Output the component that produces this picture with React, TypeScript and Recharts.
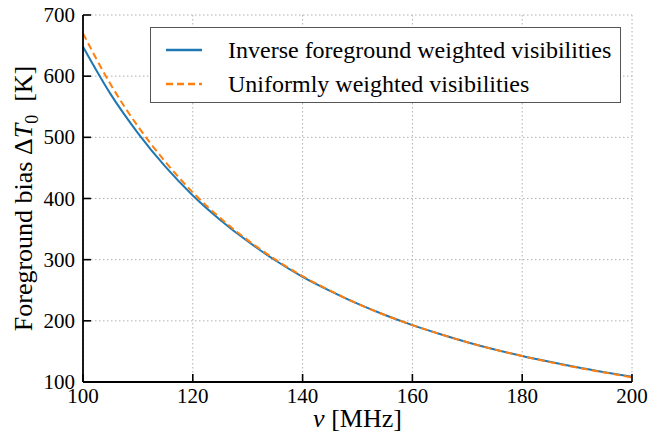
import { LineChart, Line, XAxis, YAxis, CartesianGrid, Legend } from "recharts";

const FREQ = [100, 105, 110, 115, 120, 125, 130, 135, 140, 145, 150, 155, 160, 165, 170, 175, 180, 185, 190, 195, 200];
const INVERSE_FG = [648, 571, 507, 452, 405, 365, 330, 299, 272, 249, 228, 209.5, 193, 178.5, 165, 153, 142.5, 133, 124, 116, 108.5];
const UNIFORM = [670, 587, 518, 460, 410, 368, 332, 300.5, 273, 249.5, 228, 209.5, 193, 178.5, 165, 153, 142.5, 132.5, 123.5, 115.5, 107.5];
const X_TICKS = [100, 120, 140, 160, 180, 200];
const Y_TICKS = [100, 200, 300, 400, 500, 600, 700];

const data = FREQ.map((f, i) => ({ f, inv: INVERSE_FG[i], uni: UNIFORM[i] }));

const FONT = "'Liberation Serif', 'DejaVu Serif', serif";
const TICK_LEN = 8;

const LeftTick = (p: any) => (
  <g>
    <line x1={p.x} x2={p.x + TICK_LEN} y1={p.y} y2={p.y} stroke="#000" strokeWidth={1.6} />
    <text x={p.x - 8} y={p.y + 7} textAnchor="end" fontFamily={FONT} fontSize={21} fill="#000">
      {p.payload.value}
    </text>
  </g>
);

const RightTick = (p: any) => (
  <line x1={p.x - TICK_LEN} x2={p.x} y1={p.y} y2={p.y} stroke="#000" strokeWidth={1.6} />
);

const BottomTick = (p: any) => (
  <g>
    <line x1={p.x} x2={p.x} y1={p.y} y2={p.y - TICK_LEN} stroke="#000" strokeWidth={1.6} />
    <text x={p.x} y={p.y + 21} textAnchor="middle" fontFamily={FONT} fontSize={21} fill="#000">
      {p.payload.value}
    </text>
  </g>
);

const TopTick = (p: any) => (
  <line x1={p.x} x2={p.x} y1={p.y} y2={p.y + TICK_LEN} stroke="#000" strokeWidth={1.6} />
);

const YTitle = (props: any) => {
  const vb = props.viewBox;
  const cy = vb.y + vb.height / 2;
  const x = 32;
  return (
    <text
      x={x}
      y={cy}
      transform={`rotate(-90 ${x} ${cy})`}
      textAnchor="middle"
      fontFamily={FONT}
      fontSize={26}
      fill="#000"
    >
      Foreground bias Δ<tspan fontStyle="italic">T</tspan>
      <tspan dy={6} fontSize={18}>0</tspan>
      <tspan dy={-6}>{"\u00a0\u00a0[K]"}</tspan>
    </text>
  );
};

const XTitle = (props: any) => {
  const vb = props.viewBox;
  return (
    <text x={vb.x + vb.width / 2} y={427} textAnchor="middle" fontFamily={FONT} fontSize={26} fill="#000">
      <tspan fontStyle="italic">ν</tspan> [MHz]
    </text>
  );
};

const LegendBox = (props: any) => {
  const items = props.payload || [];
  return (
    <div
      style={{
        border: "1px solid #555",
        background: "#fff",
        boxSizing: "border-box",
        width: 471,
        height: 76,
        padding: "5px 0 0 15px",
        fontFamily: FONT,
        fontSize: 24,
        color: "#000",
      }}
    >
      {items.map((it: any) => (
        <div key={it.value} style={{ display: "flex", alignItems: "center", height: 34 }}>
          <svg width={36} height={6} style={{ marginRight: 26 }}>
            <line
              x1={0}
              x2={36}
              y1={3}
              y2={3}
              stroke={it.color}
              strokeWidth={2.5}
              strokeDasharray={it.payload?.strokeDasharray}
            />
          </svg>
          <span>{it.value}</span>
        </div>
      ))}
    </div>
  );
};

export default function App() {
  return (
    <div style={{ position: "absolute", left: 0, top: 0, width: 650, height: 441, background: "#fff" }}>
      <LineChart width={650} height={441} data={data} margin={{ top: 15, right: 18, bottom: 0, left: 0 }}>
        <CartesianGrid stroke="#b0b0b0" strokeDasharray="1.5 2.5" strokeWidth={1} />
        <XAxis
          dataKey="f"
          type="number"
          domain={[100, 200]}
          ticks={X_TICKS}
          height={59}
          tickLine={false}
          tickSize={0}
          tickMargin={0}
          tick={<BottomTick />}
          stroke="#000"
          strokeWidth={1.8}
          interval={0}
          label={<XTitle />}
        />
        <XAxis
          xAxisId="top"
          dataKey="f"
          type="number"
          orientation="top"
          domain={[100, 200]}
          ticks={X_TICKS}
          height={0}
          tickLine={false}
          tickSize={0}
          tickMargin={0}
          tick={<TopTick />}
          stroke="#000"
          strokeWidth={1.8}
          interval={0}
        />
        <YAxis
          type="number"
          domain={[100, 700]}
          ticks={Y_TICKS}
          width={83}
          tickLine={false}
          tickSize={0}
          tickMargin={0}
          tick={<LeftTick />}
          stroke="#000"
          strokeWidth={1.8}
          interval={0}
          label={<YTitle />}
        />
        <YAxis
          yAxisId="right"
          orientation="right"
          type="number"
          domain={[100, 700]}
          ticks={Y_TICKS}
          width={0}
          tickLine={false}
          tickSize={0}
          tickMargin={0}
          tick={<RightTick />}
          stroke="#000"
          strokeWidth={1.8}
          interval={0}
        />
        <Legend
          layout="horizontal"
          verticalAlign="middle"
          align="center"
          content={<LegendBox />}
          wrapperStyle={{ left: 150, top: 27, width: 471, height: 76 }}
        />
        <Line
          type="monotone"
          dataKey="inv"
          name="Inverse foreground weighted visibilities"
          stroke="#1f77b4"
          strokeWidth={2}
          dot={false}
          isAnimationActive={false}
        />
        <Line
          type="monotone"
          dataKey="uni"
          name="Uniformly weighted visibilities"
          stroke="#ff7f0e"
          strokeWidth={2}
          strokeDasharray="7 4"
          dot={false}
          isAnimationActive={false}
        />
      </LineChart>
    </div>
  );
}
